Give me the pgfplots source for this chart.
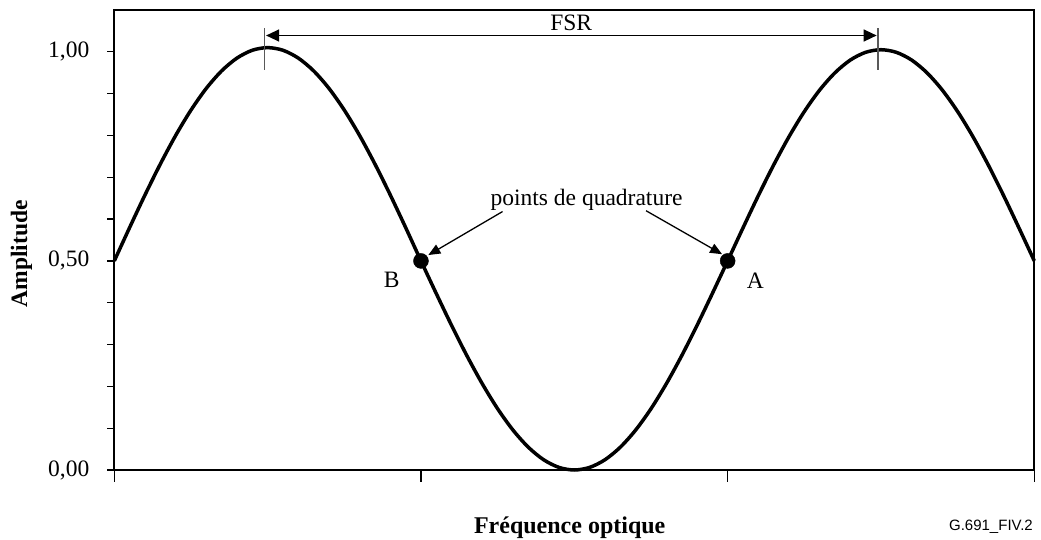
\documentclass[border=0pt]{standalone}
\usepackage{pgfplots}
\pgfplotsset{compat=1.18}
\usepackage{fontspec}
\setmainfont{Liberation Serif}
\newfontfamily\labelsans{Liberation Sans}
\usetikzlibrary{arrows.meta}

% Interferometer response over one free spectral range (amplitude vs optical frequency)
\pgfplotstableread{
x     y
0.00  0.5000
0.05  0.5798
0.10  0.6576
0.15  0.7315
0.20  0.7998
0.25  0.8606
0.30  0.9126
0.35  0.9544
0.40  0.9850
0.45  1.0037
0.50  1.0100
0.55  1.0037
0.60  0.9850
0.65  0.9544
0.70  0.9126
0.75  0.8606
0.80  0.7998
0.85  0.7315
0.90  0.6576
0.95  0.5798
1.00  0.5000
1.05  0.4218
1.10  0.3455
1.15  0.2730
1.20  0.2061
1.25  0.1464
1.30  0.0955
1.35  0.0545
1.40  0.0245
1.45  0.0062
1.50  0.0000
1.55  0.0062
1.60  0.0245
1.65  0.0545
1.70  0.0955
1.75  0.1464
1.80  0.2061
1.85  0.2730
1.90  0.3455
1.95  0.4218
2.00  0.5000
2.05  0.5788
2.10  0.6560
2.15  0.7293
2.20  0.7969
2.25  0.8571
2.30  0.9085
2.35  0.9499
2.40  0.9803
2.45  0.9988
2.50  1.0050
2.55  0.9988
2.60  0.9803
2.65  0.9499
2.70  0.9085
2.75  0.8571
2.80  0.7969
2.85  0.7293
2.90  0.6560
2.95  0.5788
3.00  0.5000
}\response

% Quadrature points
\pgfplotstableread{
x     y
1.00  0.50
2.00  0.50
}\quadrature

\begin{document}
\fontsize{23.5pt}{28pt}\selectfont
\begin{tikzpicture}
\useasboundingbox (-114.3pt,-70pt) rectangle (926.7pt,470pt);
% longer frequency ticks, drawn on their own
\begin{axis}[
  at={(0,0)}, anchor=south west,
  scale only axis,
  width=920pt, height=460pt,
  xmin=0, xmax=3, ymin=0, ymax=1.1,
  tick align=outside,
  tick style={black, line width=1.2pt},
  xtick={0,1,2,3}, xticklabels={},
  ytick=\empty,
  major tick length=12pt,
  axis x line*=bottom, axis y line=none,
  x axis line style={draw=none},
]
  \addplot[draw=none] coordinates {(0,0)};
\end{axis}
\begin{axis}[
  at={(0,0)}, anchor=south west,
  scale only axis,
  width=920pt, height=460pt,
  xmin=0, xmax=3, ymin=0, ymax=1.1,
  axis line style={line width=2pt},
  tick align=outside,
  tick style={black, line width=1.2pt},
  xtick=\empty,
  ytick pos=left,
  major tick length=7pt,
  minor tick length=7pt,
  ytick={0,0.5,1},
  yticklabels={{0,00},{0,50},{1,00}},
  minor ytick={0.1,0.2,0.3,0.4,0.6,0.7,0.8,0.9},
  yticklabel style={font=\fontsize{23.5pt}{28pt}\selectfont, anchor=east, xshift=-10pt},
  xlabel={\bfseries Fréquence optique},
  xlabel style={font=\fontsize{24pt}{28pt}\selectfont, at={(axis description cs:0.495,-0.125)}, anchor=center},
  ylabel={\bfseries Amplitude},
  ylabel style={font=\fontsize{23.5pt}{28pt}\selectfont, at={(axis description cs:-0.101,0.47)}, anchor=center},
  clip=false,
]
  \addplot[black, line width=3.5pt, smooth] table[x=x, y=y] {\response};
  \addplot[only marks, mark=*, mark size=7.5pt, black] table[x=x, y=y] {\quadrature};

  % FSR marker between the two maxima
  \draw[gray!70!black, line width=1.2pt] (axis cs:0.491,0.957) -- (axis cs:0.491,1.058);
  \draw[gray!70!black, line width=1.2pt] (axis cs:2.490,0.957) -- (axis cs:2.490,1.058);
  \draw[black, line width=1.3pt, {Triangle[length=13pt,width=12pt]}-{Triangle[length=13pt,width=12pt]}]
    (axis cs:0.495,1.039) -- (axis cs:2.486,1.039);
  \node[anchor=base, font=\fontsize{23.5pt}{28pt}\selectfont] at (axis cs:1.49,1.05) {FSR};

  % quadrature annotation
  \node[font=\fontsize{23.5pt}{28pt}\selectfont] at (axis cs:1.54,0.645) {points de quadrature};
  \draw[black, line width=1.3pt, -{Triangle[length=12pt,width=10pt]}]
    (axis cs:1.266,0.618) -- (axis cs:1.024,0.514);
  \draw[black, line width=1.3pt, -{Triangle[length=12pt,width=10pt]}]
    (axis cs:1.734,0.620) -- (axis cs:1.982,0.516);
  \node[font=\fontsize{23.5pt}{28pt}\selectfont] at (axis cs:0.905,0.455) {B};
  \node[font=\fontsize{23.5pt}{28pt}\selectfont] at (axis cs:2.09,0.452) {A};
\end{axis}
\node[anchor=base east, inner sep=0pt, font=\labelsans\fontsize{15pt}{18pt}\selectfont] at (918.7pt,-61pt) {G.691\_FIV.2};
\end{tikzpicture}
\end{document}
